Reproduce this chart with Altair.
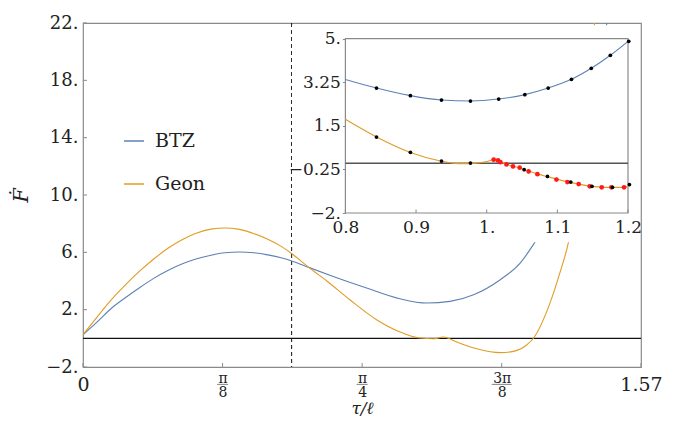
import json
import math
import altair as alt
import pandas as pd

# ---------------- data ----------------
series_names = ["BTZ", "Geon"]
series_colors = ["#5e81b5", "#e19c24"]

btz_tau = [0.0, 0.04, 0.08, 0.12, 0.16, 0.20, 0.24, 0.28, 0.32, 0.36, 0.40, 0.44,
           0.48, 0.52, 0.56, 0.587, 0.635, 0.704, 0.798, 0.892, 0.967, 1.033, 1.099,
           1.174, 1.230, 1.272, 1.340, 1.410, 1.478]
btz_val = [0.25, 1.15, 2.10, 2.85, 3.55, 4.20, 4.75, 5.20, 5.55, 5.80, 5.97, 6.02,
           5.97, 5.82, 5.60, 5.40, 4.95, 4.32, 3.51, 2.76, 2.46, 2.58, 3.04,
           4.09, 5.25, 6.72, 9.6, 14.5, 22.5]

geon_tau = [0.0, 0.04, 0.08, 0.12, 0.16, 0.20, 0.24, 0.28, 0.32, 0.36, 0.40, 0.44,
            0.48, 0.52, 0.56, 0.587, 0.635, 0.686, 0.751, 0.826, 0.892, 0.948, 0.986,
            1.014, 1.052, 1.108, 1.174, 1.211, 1.249, 1.268, 1.305, 1.343, 1.366, 1.400, 1.441]
geon_val = [0.25, 1.50, 2.70, 3.75, 4.70, 5.55, 6.30, 6.90, 7.35, 7.62, 7.70, 7.60,
            7.32, 6.92, 6.38, 5.92, 4.95, 4.00, 2.69, 1.30, 0.44, 0.02, -0.03,
            0.09, -0.26, -0.73, -1.00, -0.91, -0.45, 0.02, 1.88, 4.67, 6.72, 12.0, 22.5]

marker_tau = [0.587]

main_x_ticks = [0.0, math.pi / 8, math.pi / 4, 3 * math.pi / 8, 1.57]
main_x_labels = ["0", ["π", "8"], ["π", "4"], ["3π", "8"], "1.57"]
frac_ticks = [math.pi / 8, math.pi / 4, 3 * math.pi / 8]
frac_bar_len = [11, 11, 20]
main_y_ticks = [-2, 2, 6, 10, 14, 18, 22]
main_y_labels = ["−2.", "2.", "6.", "10.", "14.", "18.", "22."]

# inset
inset_btz_x = [0.800, 0.844, 0.892, 0.936, 0.977, 1.017, 1.054, 1.087, 1.120, 1.148, 1.175, 1.200]
inset_btz_y = [3.36, 3.016, 2.711, 2.534, 2.494, 2.574, 2.751, 3.016, 3.365, 3.807, 4.329, 4.89]
inset_btz_dot_x = [0.844, 0.892, 0.936, 0.977, 1.017, 1.054, 1.087, 1.120, 1.148, 1.175, 1.201]
inset_btz_dot_y = [3.016, 2.711, 2.534, 2.494, 2.574, 2.751, 3.016, 3.365, 3.807, 4.329, 4.89]

inset_geon_x = [0.800, 0.844, 0.892, 0.936, 0.960, 0.985, 1.000, 1.010, 1.019, 1.030, 1.050,
                1.070, 1.090, 1.110, 1.130, 1.150, 1.170, 1.190, 1.200]
inset_geon_y = [1.76, 1.05, 0.43, 0.08, -0.02, 0.00, 0.07, 0.14, 0.05, -0.06, -0.22,
                -0.42, -0.57, -0.72, -0.84, -0.93, -0.97, -0.97, -0.94]
inset_geon_dot_x = [0.844, 0.892, 0.936, 0.977, 1.053, 1.086, 1.119, 1.149, 1.178, 1.202]
inset_geon_dot_y = [1.048, 0.434, 0.084, 0.004, -0.26, -0.53, -0.76, -0.93, -0.97, -0.86]
inset_red_x = [1.0099, 1.016, 1.0194, 1.028, 1.0372, 1.0467, 1.0594, 1.0718, 1.0987, 1.1142,
               1.1302, 1.1458, 1.1628, 1.1765, 1.1944]
inset_red_y = [0.14, 0.11, 0.04, -0.05, -0.13, -0.18, -0.33, -0.44, -0.66, -0.76,
               -0.84, -0.93, -0.97, -0.97, -0.97]

inset_x_ticks = [0.8, 0.9, 1.0, 1.1, 1.2]
inset_x_labels = ["0.8", "0.9", "1.", "1.1", "1.2"]
inset_y_ticks = [-2, -0.25, 1.5, 3.25, 5]
inset_y_labels = ["−2.", "−0.25", "1.5", "3.25", "5."]

# ---------------- styling ----------------
FONT = "DejaVu Serif"
GRAY = "#8a8a8a"
TEXT = "#222222"
W, H = 558, 344
IN_X_RANGE = [262.4, 545.0]
IN_Y_RANGE = [190.0, 15.6]


def label_expr(values, labels, tol=1e-3):
    expr = "''"
    for v, lab in reversed(list(zip(values, labels))):
        expr = f"abs(datum.value - ({v!r})) < {tol} ? {json.dumps(lab, ensure_ascii=False)} : ({expr})"
    return expr


xs_main = alt.Scale(domain=[0, 1.57], nice=False, zero=False)
ys_main = alt.Scale(domain=[-2, 22], nice=False, zero=False)
xs_in = alt.Scale(domain=[0.8, 1.2], range=IN_X_RANGE, nice=False, zero=False)
ys_in = alt.Scale(domain=[-2, 5], range=IN_Y_RANGE, nice=False, zero=False)

main_df = pd.DataFrame({
    "tau": btz_tau + geon_tau,
    "F": btz_val + geon_val,
    "series": [series_names[0]] * len(btz_tau) + [series_names[1]] * len(geon_tau),
})

edge_test = "datum.value < 0.01 || datum.value > 1.5"
x_axis = alt.Axis(
    values=main_x_ticks, labelExpr=label_expr(main_x_ticks, main_x_labels), title="τ/ℓ",
    grid=False, domain=False, ticks=False, tickSize=0, labelFlush=False, labelOverlap=False,
    labelFont=FONT, labelColor=TEXT,
    labelFontSize={"condition": {"test": edge_test, "value": 19}, "value": 14},
    labelPadding={"condition": {"test": edge_test, "value": 8}, "value": 4},
    labelLineHeight=14.5, titleFont=FONT, titleFontSize=17, titleFontStyle="italic",
    titleFontWeight="normal", titleColor=TEXT, titleBaseline="alphabetic", titlePadding=14,
    zindex=1,
)
y_axis = alt.Axis(
    values=main_y_ticks, labelExpr=label_expr(main_y_ticks, main_y_labels), title="Ḟ",
    grid=False, domain=False, ticks=False, tickSize=0, labelPadding=5, labelFont=FONT,
    labelFontSize=18, labelColor=TEXT, labelOverlap=False, labelFlush=False,
    titleFont=FONT, titleFontSize=21, titleFontStyle="italic", titleFontWeight="normal",
    titleColor=TEXT, titleAngle=270, titlePadding=14, zindex=1,
)

lines = alt.Chart(main_df).mark_line(strokeWidth=1.1, clip=True, interpolate="monotone").encode(
    x=alt.X("tau:Q", scale=xs_main, axis=x_axis),
    y=alt.Y("F:Q", scale=ys_main, axis=y_axis),
    color=alt.Color(
        "series:N",
        scale=alt.Scale(domain=series_names, range=series_colors),
        legend=alt.Legend(
            orient="none", legendX=40, legendY=107, title=None, symbolType="stroke",
            symbolSize=400, symbolStrokeWidth=1.5, labelFont=FONT, labelFontSize=19,
            labelColor=TEXT, rowPadding=22, labelOffset=10, padding=0,
        ),
    ),
)

one = pd.DataFrame({"a": [0]})

zero_main = alt.Chart(pd.DataFrame({"y": [0]})).mark_rule(color="#111", strokeWidth=1.2).encode(
    y=alt.Y("y:Q", scale=ys_main, axis=None))
dashed = alt.Chart(pd.DataFrame({"tau": marker_tau})).mark_rule(
    color="#111", strokeWidth=1, strokeDash=[4, 3]).encode(
    x=alt.X("tau:Q", scale=xs_main, axis=None))
ytick_main = alt.Chart(pd.DataFrame({"v": main_y_ticks})).mark_rule(color=GRAY).encode(
    y=alt.Y("v:Q", scale=ys_main, axis=None), x=alt.value(0), x2=alt.value(4))
xtick_main = alt.Chart(pd.DataFrame({"v": main_x_ticks})).mark_rule(color=GRAY).encode(
    x=alt.X("v:Q", scale=xs_main, axis=None), y=alt.value(H), y2=alt.value(H - 4))
frac_bars = alt.Chart(pd.DataFrame({"v": frac_ticks, "w": frac_bar_len})).mark_tick(
    orient="horizontal", thickness=0.8, color=TEXT, clip=False).encode(
    x=alt.X("v:Q", scale=xs_main, axis=None), y=alt.value(361.3),
    size=alt.Size("w:Q", scale=None, legend=None))

white_bg = alt.Chart(one).mark_rect(color="white").encode(
    x=alt.value(209), x2=alt.value(556.5), y=alt.value(2.2), y2=alt.value(219.3))

frame_df = pd.DataFrame({"x": [0.8], "x2": [1.2], "y": [-2], "y2": [5]})
inset_frame = alt.Chart(frame_df).mark_rect(fill="transparent", stroke=GRAY, strokeWidth=1.2).encode(
    x=alt.X("x:Q", scale=xs_in, axis=alt.Axis(
        orient="bottom", offset=IN_Y_RANGE[0] - H, values=inset_x_ticks,
        labelExpr=label_expr(inset_x_ticks, inset_x_labels), title=None, grid=False,
        domain=False, ticks=False, tickSize=0, labelPadding=6, labelFont=FONT,
        labelFontSize=17, labelColor=TEXT, labelFlush=False, labelOverlap=False, zindex=2)),
    x2="x2:Q",
    y=alt.Y("y:Q", scale=ys_in, axis=alt.Axis(
        orient="left", offset=-IN_X_RANGE[0], values=inset_y_ticks,
        labelExpr=label_expr(inset_y_ticks, inset_y_labels), title=None, grid=False,
        domain=False, ticks=True, tickSize=3, tickColor=GRAY, labelPadding=2, labelFont=FONT,
        labelFontSize=17, labelColor=TEXT, labelFlush=False, labelOverlap=False, zindex=2)),
    y2="y2:Q",
)
inset_zero = alt.Chart(pd.DataFrame({"y": [0], "x": [0.8], "x2": [1.2]})).mark_rule(
    color="#555", strokeWidth=1.5).encode(
    x=alt.X("x:Q", scale=xs_in, axis=None), x2="x2:Q", y=alt.Y("y:Q", scale=ys_in, axis=None))
inset_xticks = alt.Chart(pd.DataFrame({"v": inset_x_ticks})).mark_rule(color=GRAY).encode(
    x=alt.X("v:Q", scale=xs_in, axis=None), y=alt.value(IN_Y_RANGE[0]),
    y2=alt.value(IN_Y_RANGE[0] - 3.5))


def inset_line(xs, ys, color):
    return alt.Chart(pd.DataFrame({"x": xs, "y": ys})).mark_line(
        color=color, strokeWidth=1.1, interpolate="monotone").encode(
        x=alt.X("x:Q", scale=xs_in, axis=None), y=alt.Y("y:Q", scale=ys_in, axis=None))


def inset_dots(xs, ys, color, size):
    return alt.Chart(pd.DataFrame({"x": xs, "y": ys})).mark_circle(
        color=color, size=size, opacity=1).encode(
        x=alt.X("x:Q", scale=xs_in, axis=None), y=alt.Y("y:Q", scale=ys_in, axis=None))


chart = alt.layer(
    ytick_main, xtick_main, zero_main, dashed, lines, frac_bars,
    white_bg, inset_frame, inset_zero, inset_xticks,
    inset_line(inset_btz_x, inset_btz_y, series_colors[0]),
    inset_line(inset_geon_x, inset_geon_y, series_colors[1]),
    inset_dots(inset_red_x, inset_red_y, "#ff1a1a", 22),
    inset_dots(inset_btz_dot_x, inset_btz_dot_y, "black", 14),
    inset_dots(inset_geon_dot_x, inset_geon_dot_y, "black", 14),
).resolve_scale(x="independent", y="independent").properties(
    width=W, height=H,
    padding={"left": 75, "top": 15, "right": 27, "bottom": 52},
    autosize=alt.AutoSizeParams(type="none"),
).configure_view(stroke=GRAY, strokeWidth=1.2)

chart.save("out.html", embed_options={"renderer": "svg", "actions": False})
